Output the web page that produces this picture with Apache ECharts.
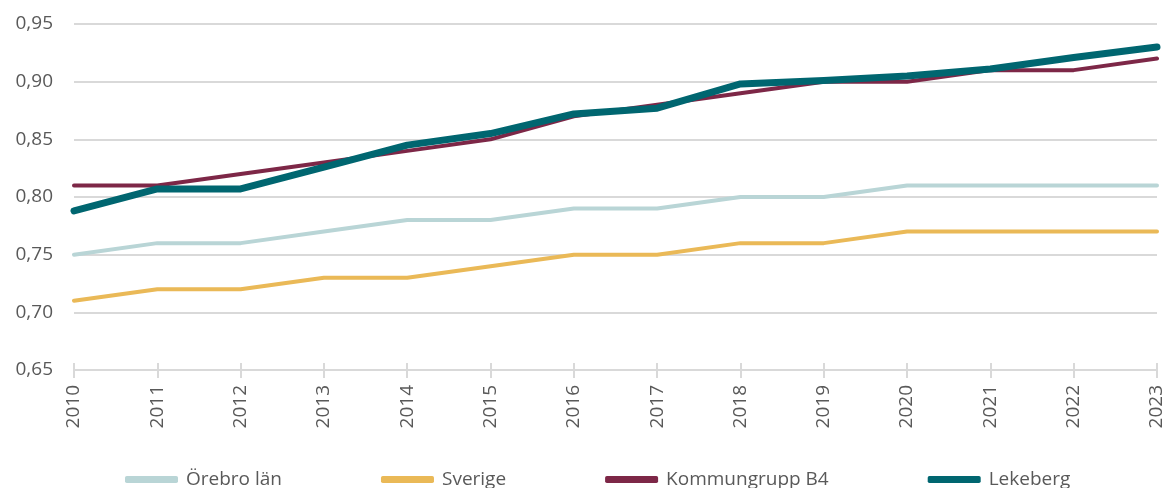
<!DOCTYPE html>
<html>
<head>
<meta charset="utf-8">
<script src="https://cdn.jsdelivr.net/npm/echarts@6/dist/echarts.min.js"></script>
<style>
  html, body { margin: 0; padding: 0; background: #fff; }
  #chart { width: 1168px; height: 488px; }
</style>
</head>
<body>
<div id="chart"></div>
<script>
var years = ["2010", "2011", "2012", "2013", "2014", "2015", "2016",
             "2017", "2018", "2019", "2020", "2021", "2022", "2023"];
var seriesNames = ["Örebro län", "Sverige", "Kommungrupp B4", "Lekeberg"];
var orebroLan = [0.75, 0.76, 0.76, 0.77, 0.78, 0.78, 0.79, 0.79, 0.80, 0.80, 0.81, 0.81, 0.81, 0.81];
var sverige = [0.71, 0.72, 0.72, 0.73, 0.73, 0.74, 0.75, 0.75, 0.76, 0.76, 0.77, 0.77, 0.77, 0.77];
var kommungrupp = [0.81, 0.81, 0.82, 0.83, 0.84, 0.85, 0.87, 0.88, 0.89, 0.90, 0.90, 0.91, 0.91, 0.92];
var lekeberg = [0.788, 0.807, 0.807, 0.826, 0.845, 0.855, 0.872, 0.877, 0.898, 0.901, 0.905, 0.911, 0.921, 0.930];

var chart = echarts.init(document.getElementById("chart"));
var font = "'Open Sans', sans-serif";
var axisGray = "#d9d9d9";
var textGray = "#595959";

function lineSeries(name, data, color, width) {
  return {
    name: name,
    type: "line",
    data: data,
    symbol: "none",
    lineStyle: { color: color, width: width, cap: "round", join: "round" },
    itemStyle: { color: color },
    animation: false
  };
}

var option = {
  backgroundColor: "#fff",
  grid: { left: 74, right: 11, top: 24, bottom: 118 },
  legend: {
    left: 120,
    top: 465,
    icon: "roundRect",
    itemWidth: 53,
    itemHeight: 7,
    itemGap: 99,
    textStyle: { fontFamily: font, fontSize: 19, color: textGray, padding: [0, 0, 0, 3] },
    data: seriesNames
  },
  xAxis: [
    {
      type: "category",
      data: years,
      boundaryGap: false,
      axisLine: { lineStyle: { color: axisGray, width: 2 } },
      axisTick: { show: true, length: 8, lineStyle: { color: axisGray, width: 2 } },
      axisLabel: {
        rotate: 90,
        margin: 15,
        fontFamily: font,
        fontSize: 19,
        color: textGray
      }
    },
    {
      type: "category",
      data: years,
      position: "bottom",
      boundaryGap: false,
      axisLine: { show: false },
      axisTick: { show: true, inside: true, length: 7, lineStyle: { color: axisGray, width: 2 } },
      axisLabel: { show: false }
    }
  ],
  yAxis: {
    type: "value",
    min: 0.65,
    max: 0.95,
    interval: 0.05,
    axisLine: { show: false },
    axisTick: { show: false },
    splitLine: { lineStyle: { color: axisGray, width: 2 } },
    axisLabel: {
      margin: 21,
      fontFamily: font,
      fontSize: 19,
      color: textGray,
      formatter: function (v) { return v.toFixed(2).replace(".", ","); }
    }
  },
  series: [
    lineSeries(seriesNames[0], orebroLan, "#b9d5d6", 4),
    lineSeries(seriesNames[1], sverige, "#eab957", 4),
    lineSeries(seriesNames[2], kommungrupp, "#7d2747", 4),
    lineSeries(seriesNames[3], lekeberg, "#006670", 7)
  ]
};
chart.setOption(option);
</script>
</body>
</html>
